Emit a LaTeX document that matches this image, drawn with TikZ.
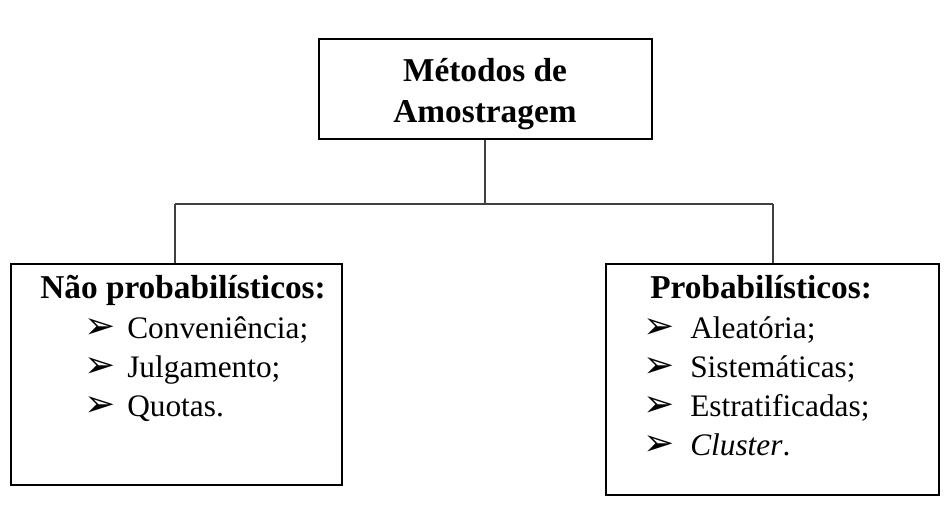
\documentclass[tikz,border=0pt]{standalone}
\usepackage{fontspec}
\setmainfont{Liberation Serif}
\newfontfamily\dingfont{DejaVu Sans}
\tikzset{
  boxframe/.style={draw=black, line width=1.5pt, rectangle, anchor=north west, inner sep=0pt},
  conn/.style={draw=black!75, line width=0.8pt},
  ttl/.style={font=\fontsize{25}{29}\selectfont\bfseries, inner sep=0pt},
  itm/.style={font=\fontsize{23.5}{28}\selectfont, inner sep=0pt, anchor=base west},
  bul/.style={font=\dingfont\fontsize{28}{30}\selectfont, inner sep=0pt, anchor=base west}
}
\begin{document}
\begin{tikzpicture}[x=0.75pt,y=-0.75pt]
\useasboundingbox (0,0) rectangle (951,508);
% boxes
\node[boxframe, minimum width=249.75pt, minimum height=75pt] (top) at (318,38) {};
\node[boxframe, minimum width=248.25pt, minimum height=165.75pt] (left) at (10,263) {};
\node[boxframe, minimum width=249.75pt, minimum height=173.25pt] (right) at (605,263) {};
% top text
\node[ttl, anchor=base] (t1) at (485,81) {Métodos de};
\node[ttl, anchor=base] (t2) at (485,122) {Amostragem};
% connectors
\coordinate (busL) at (175,204);
\coordinate (busM) at (485,204);
\coordinate (busR) at (773,204);
\draw[conn] (top.south -| busM) -- (busM);
\draw[conn] (busL) -- (busR);
\draw[conn] (busL) -- (busL |- left.north);
\draw[conn] (busR) -- (busR |- right.north);
% left content
\node[ttl, anchor=base west] (lt) at (40,298) {Não probabilísticos:};
\node[bul] (lb1) at (84,338) {➢};
\node[itm] (li1) at (127,338) {Conveniência;};
\node[bul] (lb2) at (84,377) {➢};
\node[itm] (li2) at (127,377) {Julgamento;};
\node[bul] (lb3) at (84,416) {➢};
\node[itm] (li3) at (127,416) {Quotas.};
% right content
\node[ttl, anchor=base west] (rt) at (650,298) {Probabilísticos:};
\node[bul] (rb1) at (643,338) {➢};
\node[itm] (ri1) at (690,338) {Aleatória;};
\node[bul] (rb2) at (643,377) {➢};
\node[itm] (ri2) at (690,377) {Sistemáticas;};
\node[bul] (rb3) at (643,416) {➢};
\node[itm] (ri3) at (690,416) {Estratificadas;};
\node[bul] (rb4) at (643,455) {➢};
\node[itm] (ri4) at (690,455) {\textit{Cluster}.};
\end{tikzpicture}
\end{document}
